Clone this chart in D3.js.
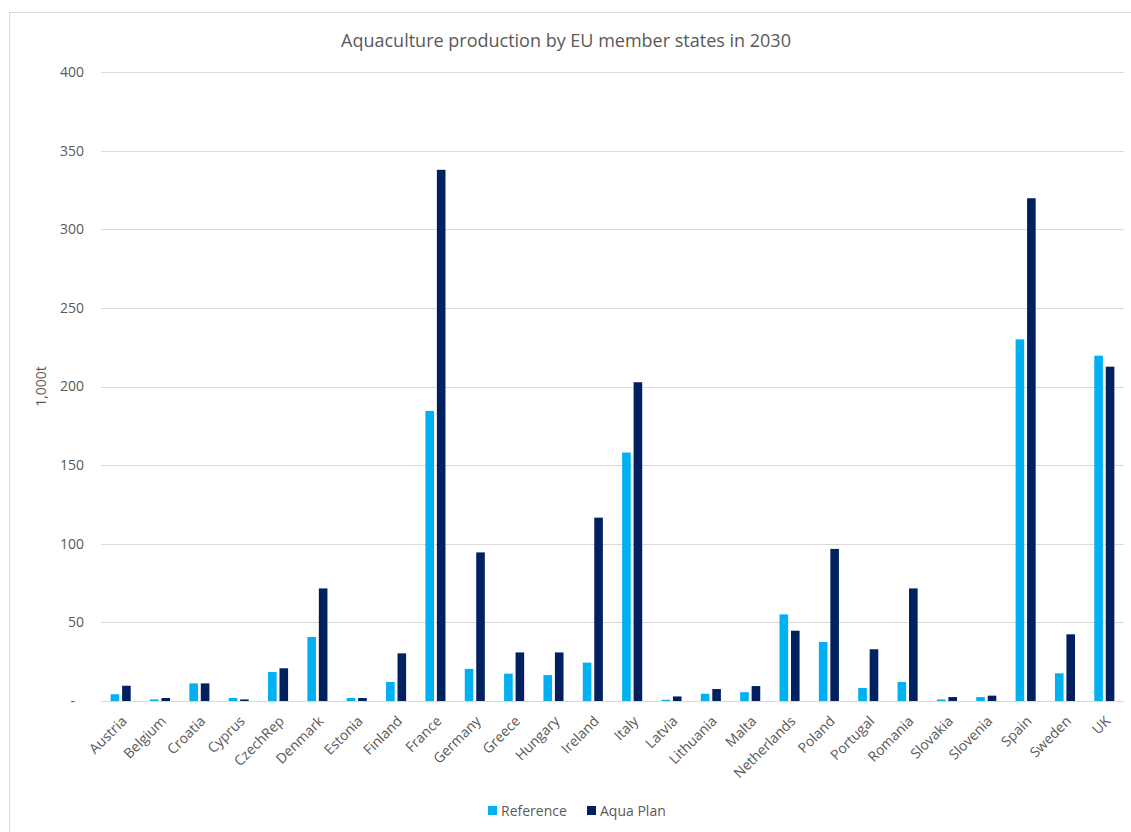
<!DOCTYPE html>
<html>
<head>
<meta charset="utf-8">
<script src="https://cdn.jsdelivr.net/npm/d3@7"></script>
<style>
  html, body { margin: 0; padding: 0; background: #fff; }
  svg { display: block; }
  text { font-family: "Open Sans", "Noto Sans", sans-serif; fill: #595959; }
</style>
</head>
<body>
<svg id="chart" width="1131" height="832"></svg>
<script>
// Member states, in the order shown on the x axis
const countries = ["Austria","Belgium","Croatia","Cyprus","CzechRep","Denmark","Estonia","Finland",
  "France","Germany","Greece","Hungary","Ireland","Italy","Latvia","Lithuania","Malta","Netherlands",
  "Poland","Portugal","Romania","Slovakia","Slovenia","Spain","Sweden","UK"];

// Production in 2030, thousand tonnes
const referenceValues = [4.3,1.0,11.2,1.9,18.4,40.7,1.9,12.1,184.5,20.4,17.4,16.5,24.4,158,0.8,4.6,5.6,
  55.1,37.5,8.3,12.1,1.0,2.5,230,17.6,219.6];
const aquaPlanValues = [9.7,1.9,11.2,1.0,20.8,71.6,1.9,30.3,337.8,94.5,30.9,30.9,116.6,202.7,2.9,7.6,9.5,
  44.7,96.7,32.9,71.6,2.5,3.4,319.7,42.4,212.6];

const seriesNames = ["Reference", "Aqua Plan"];
const seriesColors = ["#00B0F0", "#002060"];
const yTicks = [0, 50, 100, 150, 200, 250, 300, 350, 400];

const svg = d3.select("#chart");
const W = 1131, H = 832;
const margin = { left: 101, right: 7, top: 72, bottom: 131 };
const plotBottom = H - margin.bottom;

// Light frame around the chart area
svg.append("rect")
  .attr("x", 9.5).attr("y", 12.5)
  .attr("width", W + 20).attr("height", H + 20)
  .attr("fill", "none").attr("stroke", "#d9d9d9");

const x0 = d3.scaleBand()
  .domain(countries)
  .range([margin.left, W - margin.right])
  .paddingInner(0.49).paddingOuter(0.245);

const x1 = d3.scaleBand()
  .domain(seriesNames)
  .range([0, x0.bandwidth()])
  .paddingInner(0.25);

const y = d3.scaleLinear().domain([0, 400]).range([plotBottom, margin.top]);

// Horizontal gridlines
svg.append("g")
  .selectAll("line")
  .data(yTicks)
  .join("line")
  .attr("x1", margin.left).attr("x2", W - margin.right)
  .attr("y1", d => Math.round(y(d)) + 0.5).attr("y2", d => Math.round(y(d)) + 0.5)
  .attr("stroke", "#d9d9d9").attr("stroke-width", 1);

// Y axis tick labels
const yAxis = d3.axisLeft(y)
  .tickValues(yTicks)
  .tickSize(0)
  .tickPadding(17)
  .tickFormat(d => d === 0 ? "-" : d3.format(",")(d));
const yg = svg.append("g")
  .attr("transform", `translate(${margin.left},0)`)
  .call(yAxis);
yg.select(".domain").remove();
yg.selectAll("text")
  .style("font-size", "14px")
  .style("fill", "#595959")
  .attr("dx", d => d === 0 ? "-9" : "0");

// Y axis title
svg.append("text")
  .attr("transform", `translate(46,${(margin.top + plotBottom) / 2}) rotate(-90)`)
  .attr("text-anchor", "middle")
  .style("font-size", "14px")
  .text("1,000t");

// Bars
const rows = countries.map((c, i) => ({ country: c, values: [referenceValues[i], aquaPlanValues[i]] }));
const groups = svg.append("g")
  .selectAll("g")
  .data(rows)
  .join("g")
  .attr("transform", d => `translate(${x0(d.country)},0)`);

groups.selectAll("rect")
  .data(d => d.values.map((v, k) => ({ series: seriesNames[k], value: v, color: seriesColors[k] })))
  .join("rect")
  .attr("x", d => x1(d.series))
  .attr("width", x1.bandwidth())
  .attr("y", d => y(d.value))
  .attr("height", d => y(0) - y(d.value))
  .attr("fill", d => d.color);

// X axis category labels
const xAxis = d3.axisBottom(x0).tickSize(0).tickPadding(0);
const xg = svg.append("g")
  .attr("transform", `translate(0,${plotBottom})`)
  .call(xAxis);
xg.select(".domain").remove();
xg.selectAll("text")
  .style("font-size", "14px")
  .style("fill", "#595959")
  .attr("text-anchor", "end")
  .attr("dy", "0")
  .attr("transform", "translate(7,21) rotate(-45)");

// Title
svg.append("text")
  .attr("x", 566).attr("y", 47)
  .attr("text-anchor", "middle")
  .style("font-size", "18px")
  .text("Aquaculture production by EU member states in 2030");

// Legend
const legend = svg.append("g").attr("transform", "translate(488,806)");
const legendX = [0, 99];
seriesNames.forEach((name, k) => {
  const g = legend.append("g").attr("transform", `translate(${legendX[k]},0)`);
  g.append("rect").attr("width", 9).attr("height", 9).attr("fill", seriesColors[k]);
  g.append("text").attr("x", 13).attr("y", 9.5).style("font-size", "14px").text(name);
});
</script>
</body>
</html>
